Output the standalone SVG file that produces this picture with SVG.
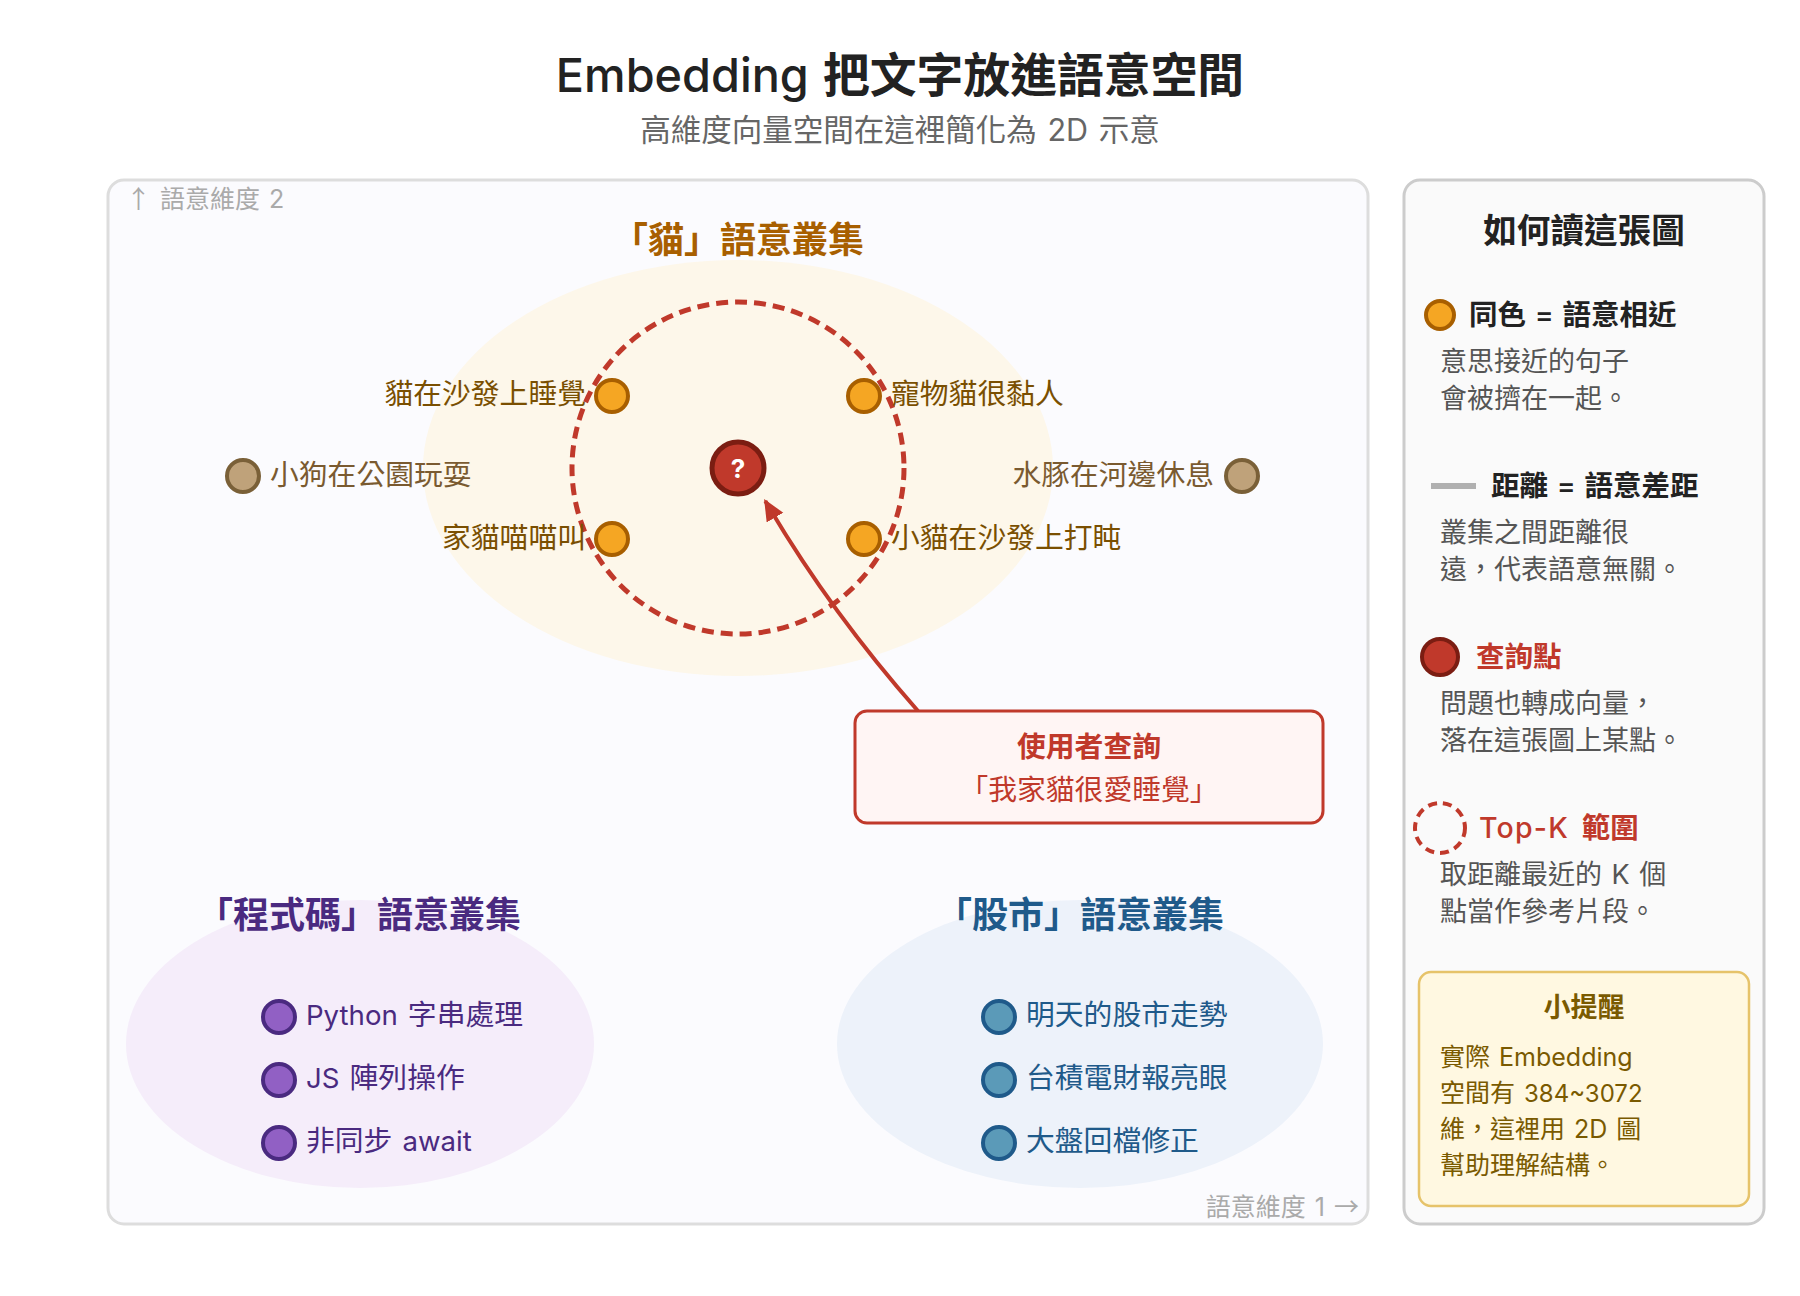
<svg xmlns="http://www.w3.org/2000/svg" width="1800" height="1296" viewBox="0 0 1800 1296">
<style>
text{font-family:"Inter","Noto Sans CJK TC",sans-serif;word-spacing:2px}
.m{text-anchor:middle}.e{text-anchor:end}
.b{font-weight:700}
.L{font-weight:500}
.A{font-family:"Noto Sans CJK TC",sans-serif;font-weight:400}
.lbl{font-size:28.8px}
.la{font-size:27.6px}
.ct{font-size:36px;font-weight:700}
.cat{fill:#7a4f01}.cattitle{fill:#a85f00}
.dot{stroke-width:4}
.d1{fill:#f5a623;stroke:#a85f00}
.d2{fill:#bfa27a;stroke:#7a6038}
.d3{fill:#9160c4;stroke:#4a2a80}
.d4{fill:#5b9ab8;stroke:#1f5a8a}
.lh{font-size:28.5px;font-weight:700;fill:#222}
.ld{font-size:27px;fill:#555}
.tip{font-size:25px;fill:#7a5a00}
.ax{font-size:25px;fill:#aaa}
</style>
<defs><marker id="ah" markerWidth="7" markerHeight="6" refX="4.8" refY="2.4" orient="auto" markerUnits="strokeWidth"><path d="M0 0L5.4 2.4L0 4.8Z" fill="#c0392b"/></marker></defs>
<rect width="1800" height="1296" fill="#fff"/>
<text class="m" x="900" y="92" font-size="46.8" font-weight="700" fill="#222" style="word-spacing:3px"><tspan font-weight="550">Embedding</tspan> 把文字放進語意空間</text>
<text class="m" x="900" y="141" font-size="30.5" fill="#666">高維度向量空間在這裡簡化為 2D 示意</text>
<g id="plot">
<rect x="108" y="180" width="1260" height="1044" rx="16" fill="#fbfbfe" stroke="#ddd" stroke-width="3"/>
<text class="ax" x="126" y="208"><tspan class="A">↑</tspan> 語意維度 2</text>
<text class="ax e" x="1359" y="1216">語意維度 1 <tspan class="A">→</tspan></text>
</g>
<ellipse cx="738" cy="468" rx="315" ry="208" fill="#fdf7ea"/>
<ellipse cx="360" cy="1044" rx="234" ry="144" fill="#f5edfa"/>
<ellipse cx="1080" cy="1044" rx="243" ry="144" fill="#edf2fa"/>
<circle id="topk" cx="738" cy="468" r="166" fill="none" stroke="#c0392b" stroke-width="5" stroke-dasharray="12 7"/>
<g id="connectors"><path d="M918 711Q 829 610 765.3 501" fill="none" stroke="#c0392b" stroke-width="4" marker-end="url(#ah)"/></g>
<g id="cluster-cat">
<text class="ct cattitle m" x="738" y="253">「貓」語意叢集</text>
<g id="c1"><circle class="dot d1" cx="612" cy="396" r="16"/><text class="lbl cat e" x="586" y="404">貓在沙發上睡覺</text></g>
<g id="c2"><circle class="dot d1" cx="864" cy="396" r="16"/><text class="lbl cat" x="891" y="404">寵物貓很黏人</text></g>
<g id="c3"><circle class="dot d1" cx="612" cy="539" r="16"/><text class="lbl cat e" x="586" y="548">家貓喵喵叫</text></g>
<g id="c4"><circle class="dot d1" cx="864" cy="539" r="16"/><text class="lbl cat" x="891" y="548">小貓在沙發上打盹</text></g>
<g id="c5"><circle class="dot d2" cx="243" cy="476" r="16"/><text class="lbl" fill="#7a5a30" x="270" y="485">小狗在公園玩耍</text></g>
<g id="c6"><circle class="dot d2" cx="1242" cy="476" r="16"/><text class="lbl e" fill="#7a5a30" x="1214" y="485">水豚在河邊休息</text></g>
</g>
<g id="query"><circle cx="738" cy="468" r="26" fill="#c0392b" stroke="#7b1d12" stroke-width="5"/><text class="m b" x="738" y="478" font-size="26" fill="#fff">?</text></g>
<g id="query-box"><rect x="855" y="711" width="468" height="112" rx="12" fill="#fff5f4" stroke="#c0392b" stroke-width="3"/>
<text class="m b" x="1089" y="757" font-size="28.8" fill="#c0392b">使用者查詢</text>
<text class="m" x="1089" y="800" font-size="28.8" fill="#c0392b">「我家貓很愛睡覺」</text></g>
<g id="cluster-code"><text class="ct m" fill="#4a2a80" x="359" y="928">「程式碼」語意叢集</text>
<g id="p1"><circle class="dot d3" cx="279" cy="1017" r="16"/><text class="lbl" fill="#4a2a80" x="306" y="1025"><tspan class="la">Python</tspan> 字串處理</text></g>
<g id="p2"><circle class="dot d3" cx="279" cy="1080" r="16"/><text class="lbl" fill="#4a2a80" x="306" y="1088"><tspan class="la">JS</tspan> 陣列操作</text></g>
<g id="p3"><circle class="dot d3" cx="279" cy="1143" r="16"/><text class="lbl" fill="#4a2a80" x="306" y="1151">非同步 <tspan class="la">await</tspan></text></g></g>
<g id="cluster-stock"><text class="ct m" fill="#1f5a8a" x="1080" y="928">「股市」語意叢集</text>
<g id="s1"><circle class="dot d4" cx="999" cy="1017" r="16"/><text class="lbl" fill="#1f5a8a" x="1026" y="1025">明天的股市走勢</text></g>
<g id="s2"><circle class="dot d4" cx="999" cy="1080" r="16"/><text class="lbl" fill="#1f5a8a" x="1026" y="1088">台積電財報亮眼</text></g>
<g id="s3"><circle class="dot d4" cx="999" cy="1143" r="16"/><text class="lbl" fill="#1f5a8a" x="1026" y="1151">大盤回檔修正</text></g></g>
<g id="legend">
<rect x="1404" y="180" width="360" height="1044" rx="16" fill="#fafafa" stroke="#ccc" stroke-width="3"/>
<text class="m b" x="1584" y="243" font-size="33.6" fill="#222">如何讀這張圖</text>
<circle class="dot d1" cx="1440" cy="315" r="14"/>
<text class="lh" x="1469" y="325">同色 <tspan class="L">=</tspan> 語意相近</text>
<text class="ld" x="1440" y="371">意思接近的句子</text><text class="ld" x="1440" y="408">會被擠在一起。</text>
<line x1="1431" y1="486" x2="1476" y2="486" stroke="#b0b0b0" stroke-width="6"/>
<text class="lh" x="1491" y="496">距離 <tspan class="L">=</tspan> 語意差距</text>
<text class="ld" x="1440" y="542">叢集之間距離很</text><text class="ld" x="1440" y="579">遠，代表語意無關。</text>
<circle cx="1440" cy="657" r="18" fill="#c0392b" stroke="#7b1d12" stroke-width="4"/>
<text class="lh" style="fill:#c0392b" x="1476" y="667">查詢點</text>
<text class="ld" x="1440" y="713">問題也轉成向量，</text><text class="ld" x="1440" y="750">落在這張圖上某點。</text>
<circle cx="1440" cy="828" r="25" fill="none" stroke="#c0392b" stroke-width="4" stroke-dasharray="9 6"/>
<text class="lh" style="fill:#c0392b;word-spacing:6px" x="1479" y="838"><tspan class="L" letter-spacing="1.2">Top-K</tspan> 範圍</text>
<text class="ld" x="1440" y="884">取距離最近的 K 個</text><text class="ld" x="1440" y="921">點當作參考片段。</text>
<g id="tip"><rect x="1419" y="972" width="330" height="234" rx="12" fill="#fff8e1" stroke="#e6c36a" stroke-width="2.5"/>
<text class="m b" x="1584" y="1017" font-size="27" fill="#7a5a00">小提醒</text>
<text class="tip" x="1440" y="1066">實際 Embedding</text><text class="tip" x="1440" y="1102">空間有 <tspan font-size="24">384~3072</tspan></text><text class="tip" x="1440" y="1138">維，這裡用 2D 圖</text><text class="tip" x="1440" y="1174">幫助理解結構。</text></g>
</g>
</svg>
